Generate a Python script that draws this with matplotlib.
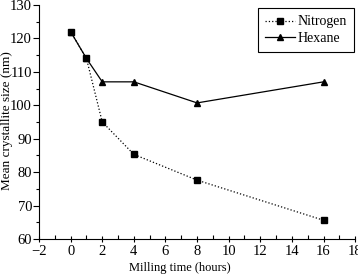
import matplotlib
matplotlib.use("Agg")
import matplotlib.pyplot as plt
from matplotlib.ticker import MultipleLocator

# milling time (hours)
time_h = [0, 1, 2, 4, 8, 16]
# mean crystallite size (nm)
nitrogen = [122, 114, 95, 85.3, 77.6, 65.6]
hexane = [122, 114, 107, 107, 100.7, 107]

plt.rcParams['font.family'] = ['Liberation Serif', 'DejaVu Serif']
plt.rcParams['font.size'] = 10.5

fig = plt.figure(figsize=(3.58, 2.75), dpi=100)
ax = fig.add_axes([0.109, 0.131, 0.883, 0.851])

ax.plot(time_h, nitrogen, color='black', linestyle=':', linewidth=0.9,
        marker='s', markersize=4, label='Nitrogen')
ax.plot(time_h, hexane, color='black', linestyle='-', linewidth=0.9,
        marker='^', markersize=5, label='Hexane')

ax.set_xlim(-2, 18)
ax.set_ylim(60, 130)
ax.xaxis.set_major_locator(MultipleLocator(2))
ax.xaxis.set_minor_locator(MultipleLocator(1))
ax.yaxis.set_major_locator(MultipleLocator(10))
ax.yaxis.set_minor_locator(MultipleLocator(5))
ax.tick_params(axis='x', which='major', direction='inout', length=5, width=0.8, pad=2)
ax.tick_params(axis='x', which='minor', direction='in', length=3, width=0.8)
ax.tick_params(axis='y', which='major', direction='out', length=4, width=0.8, pad=1)
ax.tick_params(axis='y', which='minor', direction='out', length=2, width=0.8)
ax.spines['top'].set_visible(False)
ax.spines['right'].set_visible(False)

# minus sign on the first tick label
ax.set_xticks(range(-2, 19, 2))
ax.set_xticklabels(['\u22122' if t < 0 else str(t) for t in range(-2, 19, 2)])

ax.set_xlabel('Milling time (hours)', fontsize=9)
ax.xaxis.set_label_coords(0.446, -0.1)
ax.set_ylabel('Mean crystallite size (nm)', fontsize=9.5)
ax.yaxis.set_label_coords(-0.083, 0.506)

leg = ax.legend(loc='upper right', bbox_to_anchor=(0.997, 0.985), borderaxespad=0,
                fancybox=False, edgecolor='black', framealpha=1, handlelength=2.2,
                handletextpad=0.2, borderpad=0.5, labelspacing=0.25, fontsize=10)
leg.get_frame().set_linewidth(0.8)

fig.savefig('out.png', dpi=100)
